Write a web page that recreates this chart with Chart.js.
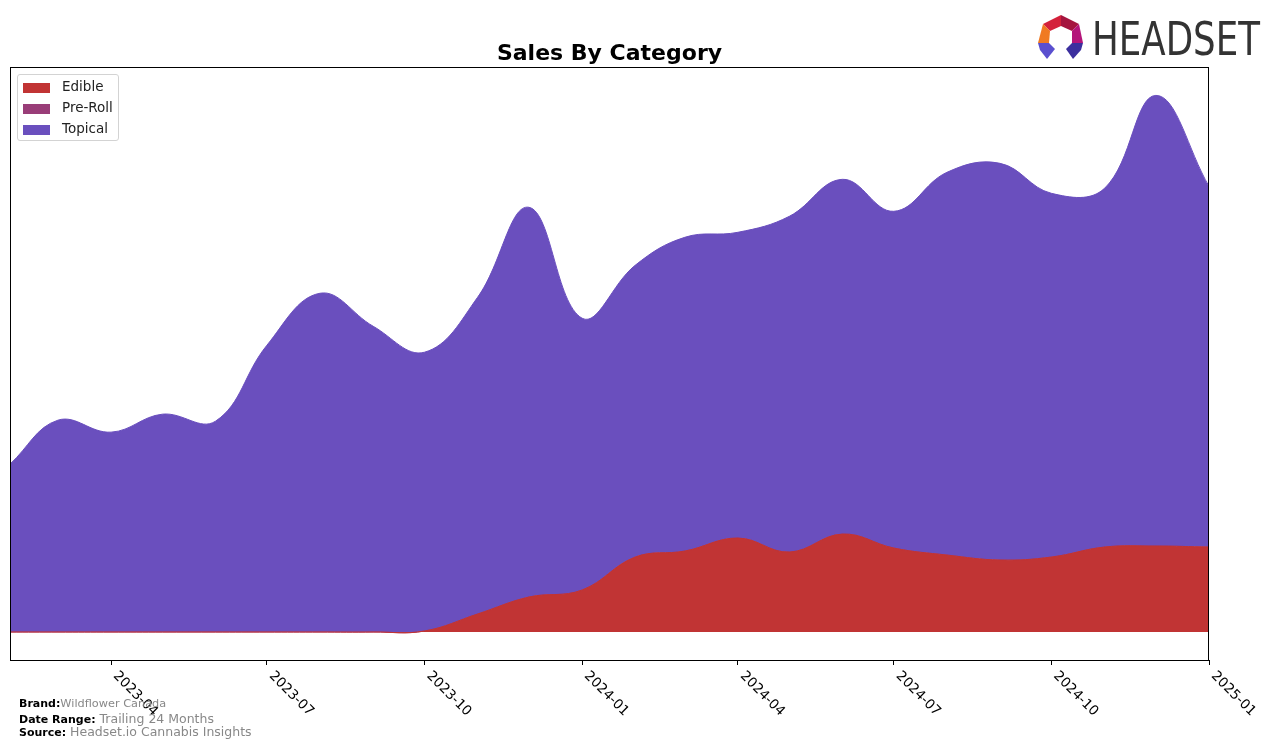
<!DOCTYPE html>
<html>
<head>
<meta charset="utf-8">
<script src="https://cdn.jsdelivr.net/npm/chart.js"></script>
<style>
  body { margin: 0; background: #fff; font-family: "DejaVu Sans", sans-serif; }
  #wrap { position: relative; width: 1276px; height: 748px; overflow: hidden; }
  #chart { position: absolute; left: 0; top: 0; }
  #legend { position: absolute; left: 17px; top: 74px; width: 100px; height: 65px;
            border: 1px solid #d3d3d3; border-radius: 3px; background: rgba(255,255,255,0.8); }
  .item { position: absolute; left: 0; height: 14px; width: 100px; }
  .swatch { position: absolute; left: 5px; top: 2px; width: 27px; height: 10px; }
  .lbl { position: absolute; left: 44px; top: -2px; font-size: 13.5px; line-height: 15px; color: #222; white-space: nowrap; }
  .foot { position: absolute; left: 19px; white-space: nowrap; color: #888; }
  .foot b { color: #000; font-size: 11px; }
  #logo { position: absolute; left: 1030px; top: 8px; }
</style>
</head>
<body>
<div id="wrap">
  <canvas id="chart" width="1276" height="748"></canvas>
  <div id="legend"></div>
  <div class="foot" style="top:697px;font-size:11.3px;"><b>Brand:</b>Wildflower Canada</div>
  <div class="foot" style="top:711px;font-size:12.5px;"><b>Date Range:</b> Trailing 24 Months</div>
  <div class="foot" style="top:724px;font-size:12.5px;"><b>Source:</b> Headset.io Cannabis Insights</div>
  <svg id="logo" width="240" height="56" viewBox="1030 8 240 56">
    <polygon points="1061,15 1043,24 1050,31 1061,26" fill="#d4213b"/>
    <polygon points="1061,15 1079,24 1072,31 1061,26" fill="#a5153f"/>
    <polygon points="1043,24 1038,43 1049,43 1050,31" fill="#f07a22"/>
    <polygon points="1079,24 1083,43 1072,43 1072,31" fill="#b4157a"/>
    <polygon points="1038,43 1049,43 1055,49 1047,59 1040,50" fill="#5a4fcf"/>
    <polygon points="1072,43 1083,43 1081,50 1073,59 1066,49" fill="#3b2f9e"/>
    <text x="1092" y="55" font-family="'DejaVu Sans',sans-serif"
          font-size="47" fill="#333" textLength="168" lengthAdjust="spacingAndGlyphs">HEADSET</text>
  </svg>
</div>
<script>
// monthly points, Feb 2023 .. Jan 2025
const months = ['2023-02','2023-03','2023-04','2023-05','2023-06','2023-07','2023-08','2023-09',
                '2023-10','2023-11','2023-12','2024-01','2024-02','2024-03','2024-04','2024-05',
                '2024-06','2024-07','2024-08','2024-09','2024-10','2024-11','2024-12','2025-01'];
const edible  = [0, 0, 0, 0, 0, 0, 0, 0, 1, 18, 35, 42, 75, 81, 94, 80, 98, 84, 77, 72, 75, 85, 86, 85];
const preRoll = [0, 0, 0, 0, 0, 0, 0, 0, 0, 0, 0, 0, 0, 0, 0, 0, 0, 0, 0, 0, 0, 0, 0, 0];
const topical = [168, 212, 200, 218, 211, 287, 339, 306, 279, 317, 390, 272, 292, 314, 306, 336,
                 355, 337, 383, 397, 364, 359, 451, 361];
const tickLabels = ['2023-04','2023-07','2023-10','2024-01','2024-04','2024-07','2024-10','2025-01'];

const seriesNames = ['Edible', 'Pre-Roll', 'Topical'];
const seriesColors = ['#c13434', '#993d78', '#6a4fbe'];

const start = Date.UTC(2023, 1, 1);
function dayOf(ym) {
  const [y, m] = ym.split('-').map(Number);
  return (Date.UTC(y, m - 1, 1) - start) / 86400000;
}

// legend
const legend = document.getElementById('legend');
seriesNames.forEach((name, i) => {
  const it = document.createElement('div');
  it.className = 'item';
  it.style.top = (6 + i * 21) + 'px';
  it.innerHTML = '<div class="swatch" style="background:' + seriesColors[i] + '"></div><div class="lbl">' + name + '</div>';
  legend.appendChild(it);
});

const frame = {
  id: 'frame',
  afterDraw(chart) {
    const a = chart.chartArea, ctx = chart.ctx;
    ctx.save();
    ctx.strokeStyle = '#000';
    ctx.lineWidth = 1;
    ctx.strokeRect(Math.round(a.left) + 0.5, Math.round(a.top) + 0.5,
                   Math.round(a.right - a.left) - 1, Math.round(a.bottom - a.top));
    ctx.restore();
  }
};

const quarterLabels = {
  id: 'quarterLabels',
  afterDraw(chart) {
    const sc = chart.scales.x, ctx = chart.ctx;
    ctx.save();
    ctx.font = '13.6px "DejaVu Sans"';
    ctx.fillStyle = '#000';
    ctx.textAlign = 'left';
    ctx.textBaseline = 'top';
    tickLabels.forEach(l => {
      const x = sc.getPixelForValue(dayOf(l));
      ctx.save();
      ctx.translate(x + 9, chart.chartArea.bottom + 9);
      ctx.rotate(Math.PI / 4);
      ctx.fillText(l, 0, 0);
      ctx.restore();
    });
    ctx.restore();
  }
};

const datasets = [edible, preRoll, topical].map((vals, i) => ({
  label: seriesNames[i],
  data: vals,
  backgroundColor: seriesColors[i],
  borderColor: seriesColors[i],
  borderWidth: 1,
  pointRadius: 0,
  tension: 0.4,
  fill: i === 0 ? 'origin' : '-1'
}));

new Chart(document.getElementById('chart'), {
  type: 'line',
  data: { labels: months.map(dayOf), datasets: datasets },
  options: {
    responsive: false,
    animation: false,
    devicePixelRatio: 1,
    layout: { padding: { left: 10, right: 67, top: 41, bottom: 83 } },
    plugins: {
      legend: { display: false },
      tooltip: { enabled: false },
      title: {
        display: true,
        text: 'Sales By Category',
        color: '#000',
        font: { family: 'DejaVu Sans', size: 22, weight: 'bold' },
        padding: { top: 0, bottom: 0 }
      }
    },
    scales: {
      x: {
        type: 'linear',
        min: 0,
        max: dayOf('2025-01'),
        afterBuildTicks: s => { s.ticks = tickLabels.map(l => ({ value: dayOf(l) })); },
        ticks: { display: false },
        grid: { display: true, drawOnChartArea: false, drawTicks: true, tickLength: 5, color: '#000' },
        border: { display: true, color: '#000' }
      },
      y: {
        stacked: true,
        display: false,
        min: -28,
        max: 565
      }
    }
  },
  plugins: [frame, quarterLabels]
});
</script>
</body>
</html>
